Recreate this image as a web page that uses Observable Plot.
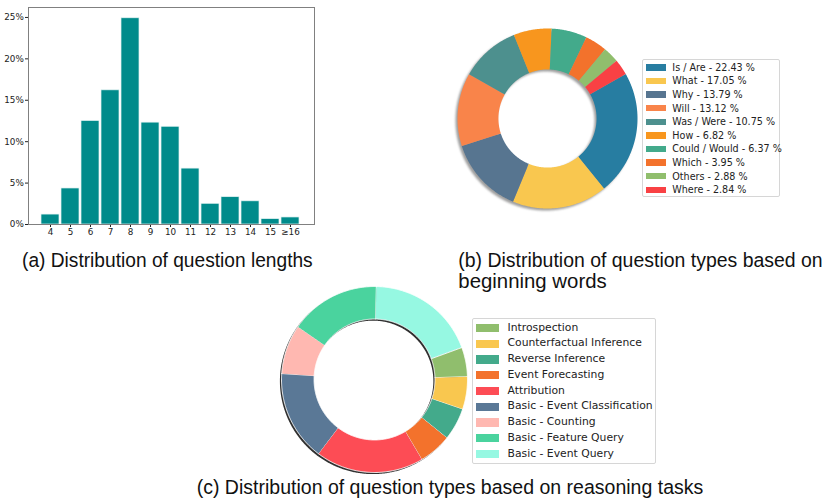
<!DOCTYPE html>
<html><head><meta charset="utf-8">
<script src="https://cdn.jsdelivr.net/npm/d3@7"></script>
<script src="https://cdn.jsdelivr.net/npm/@observablehq/plot@0.6"></script>
<style>
body{margin:0;background:#fff;}
#fig{position:relative;width:831px;height:499px;overflow:hidden;background:#fff;}
.abs{position:absolute;}
.legend{position:absolute;background:#fff;border:1px solid #d6d6d6;border-radius:2px;box-sizing:border-box;font-family:"DejaVu Sans";color:#222;}
.row{position:absolute;white-space:nowrap;}
.sw{position:absolute;}
#caps{position:absolute;left:0;top:0;pointer-events:none;}
</style></head><body><div id="fig"></div>
<script>
// ---------- data ----------
const lengthLabels = ["4","5","6","7","8","9","10","11","12","13","14","15","≥16"];
const lengthShares = [1.2,4.35,12.5,16.2,24.9,12.3,11.8,6.75,2.5,3.3,2.8,0.65,0.85];

const wordTypes  = ["Is / Are","What","Why","Will","Was / Were","How","Could / Would","Which","Others","Where"];
const wordShares = [22.43,17.05,13.79,13.12,10.75,6.82,6.37,3.95,2.88,2.84];
const wordColors = ["#277da1","#f9c74f","#577590","#f9844a","#4d908e","#f8961e","#43aa8b","#f3722c","#90be6d","#f94144"];

const taskTypes  = ["Introspection","Counterfactual Inference","Reverse Inference","Event Forecasting","Attribution","Basic - Event Classification","Basic - Counting","Basic - Feature Query","Basic - Event Query"];
const taskShares = [5.1,5.7,5.6,5.7,18.8,15.7,8.6,15.7,19.1];
const taskColors = ["#90be6d","#f9c74f","#43aa8b","#f3722c","#fd4c55","#5a7896","#ffb8b1","#4ad39e","#96f8e2"];

const captions = ["(a) Distribution of question lengths",
  "(b) Distribution of question types based on", "beginning words",
  "(c) Distribution of question types based on reasoning tasks"];

const fig = document.getElementById("fig");

// ---------- (a) bar chart ----------
const lengthData = lengthLabels.map((l,i)=>({label:l, share:lengthShares[i]}));
const barPlot = Plot.plot({
  width: 330, height: 240,
  marginLeft: 28, marginRight: 16, marginTop: 7, marginBottom: 16,
  style: {fontFamily: "DejaVu Sans", fontSize: "8.8px", color: "#222", background: "transparent"},
  x: {type: "band", domain: lengthLabels, padding: 0.09, insetLeft: 11, insetRight: 12, tickSize: 3, tickPadding: 1, label: null},
  y: {domain: [0, 26.2], ticks: 6, tickFormat: d => d + "%", tickSize: 3, tickPadding: 1.7, label: null},
  marks: [
    Plot.barY(lengthData, {x: "label", y: "share", fill: "#008b8b", stroke: "#e6f4f4", strokeWidth: 0.7}),
    Plot.frame({stroke: "#808080"})
  ]
});
barPlot.classList.add("abs");
barPlot.style.left = "0px"; barPlot.style.top = "0px";
fig.appendChild(barPlot);

// ---------- donut helpers ----------
function ringRows(keys, values, startDeg, inner) {
  const a0 = startDeg * Math.PI / 180;
  const arcs = d3.pie().sort(null).startAngle(a0).endAngle(a0 + 2 * Math.PI)(values);
  const rows = [];
  arcs.forEach((a, i) => {
    const n = Math.max(2, Math.ceil((a.endAngle - a.startAngle) / 0.01));
    for (let j = 0; j <= n; j++) {
      const t = a.startAngle + (a.endAngle - a.startAngle) * j / n;
      rows.push({key: keys[i], x: Math.sin(t), y: Math.cos(t)});
    }
    for (let j = n; j >= 0; j--) {
      const t = a.startAngle + (a.endAngle - a.startAngle) * j / n;
      rows.push({key: keys[i], x: inner * Math.sin(t), y: inner * Math.cos(t)});
    }
  });
  return rows;
}

function donut({keys, values, colors, startDeg, inner, R, size, cx, cy, shadow, edge}) {
  const k = size / 2 / R;
  const rows = ringRows(keys, values, startDeg, inner);
  const shadowRows = ringRows(["shadow"], [1], startDeg, inner);
  const p = Plot.plot({
    width: size, height: size, margin: 0,
    x: {domain: [-k, k], axis: null},
    y: {domain: [-k, k], axis: null},
    color: {domain: keys, range: colors},
    style: {background: "transparent", overflow: "visible"},
    marks: [
      Plot.line(shadowRows, {x: "x", y: "y", z: "key", fill: shadow.color, fillOpacity: shadow.opacity, stroke: "none", dx: shadow.dx, dy: shadow.dy, curve: "linear"}),
      Plot.line(rows, {x: "x", y: "y", z: "key", fill: "key", stroke: edge ? "#ffffff" : "none", strokeWidth: edge || 0, strokeLinejoin: "round", curve: "linear"})
    ]
  });
  const g = p.querySelector('g[aria-label="line"]');
  if (g && shadow.blur) g.style.filter = `blur(${shadow.blur}px)`;
  p.classList.add("abs");
  p.style.left = (cx - size / 2) + "px";
  p.style.top = (cy - size / 2) + "px";
  fig.appendChild(p);
}

function legend({left, top, width, height, labels, colors, row0, step, swX, swW, swH, textX, fontSize}) {
  const box = document.createElement("div");
  box.className = "legend";
  Object.assign(box.style, {left: left + "px", top: top + "px", width: width + "px", height: height + "px"});
  labels.forEach((lab, i) => {
    const cy = row0 + i * step;
    const sw = document.createElement("div");
    sw.className = "sw";
    Object.assign(sw.style, {left: swX + "px", top: (cy - swH / 2) + "px", width: swW + "px", height: swH + "px", background: colors[i]});
    box.appendChild(sw);
    const t = document.createElement("div");
    t.className = "row";
    t.textContent = lab;
    Object.assign(t.style, {left: textX + "px", top: (cy - fontSize * 0.6) + "px", fontSize: fontSize + "px", lineHeight: (fontSize * 1.2) + "px"});
    box.appendChild(t);
  });
  fig.appendChild(box);
}

// ---------- (b) donut ----------
donut({keys: wordTypes, values: wordShares, colors: wordColors, startDeg: 60.4, inner: 0.545,
  R: 90, size: 200, cx: 546.5, cy: 117.5,
  shadow: {color: "#7f7f7f", opacity: 0.75, dx: -2, dy: 2, blur: 0.9}, edge: 0});
legend({left: 641.5, top: 59.3, width: 138.5, height: 138.2,
  labels: wordTypes.map((w, i) => `${w} - ${wordShares[i].toFixed(2)} %`), colors: wordColors,
  row0: 7.2, step: 13.6, swX: 3.8, swW: 19.3, swH: 6.4, textX: 29.8, fontSize: 9.6});

// ---------- (c) donut ----------
donut({keys: taskTypes, values: taskShares, colors: taskColors, startDeg: 69.9, inner: 0.65,
  R: 93, size: 200, cx: 373.7, cy: 379,
  shadow: {color: "#1a1a1a", opacity: 0.9, dx: -1.6, dy: 1.6, blur: 0.3}, edge: 0.9});
legend({left: 471.7, top: 318.3, width: 184, height: 145.7,
  labels: taskTypes, colors: taskColors,
  row0: 8.8, step: 15.75, swX: 3.8, swW: 22.6, swH: 8.2, textX: 34.8, fontSize: 10.8});

// ---------- captions ----------
const ns = "http://www.w3.org/2000/svg";
const caps = document.createElementNS(ns, "svg");
caps.setAttribute("id", "caps");
caps.setAttribute("width", 831); caps.setAttribute("height", 499);
[[captions[0], 22, 266.5, 290.7], [captions[1], 458.3, 267.2, 364.4], [captions[2], 458.3, 288, 148.4], [captions[3], 196.7, 493.5, 506.6]].forEach(([s, x, y, w]) => {
  const t = document.createElementNS(ns, "text");
  t.setAttribute("x", x); t.setAttribute("y", y);
  t.setAttribute("font-family", "Liberation Sans, Arial, sans-serif");
  t.setAttribute("font-size", "19.3");
  t.setAttribute("fill", "#111");
  t.setAttribute("textLength", w);
  t.setAttribute("lengthAdjust", "spacingAndGlyphs");
  t.textContent = s;
  caps.appendChild(t);
});
fig.appendChild(caps);
</script></body></html>
